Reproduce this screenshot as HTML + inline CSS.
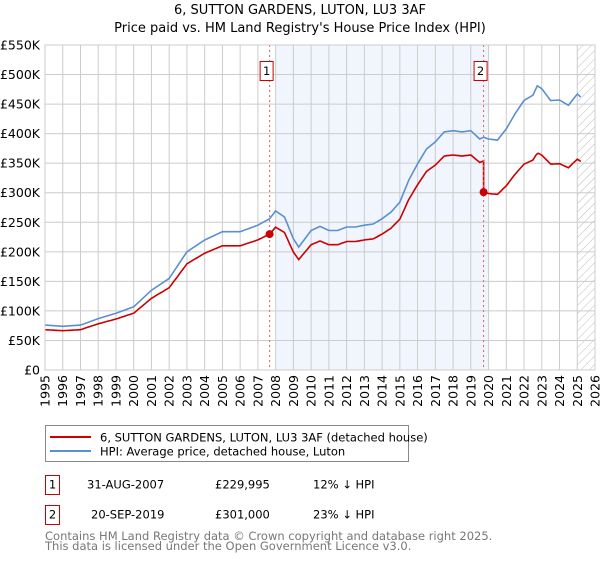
<!DOCTYPE html>
<html><head><meta charset="utf-8"><style>
body{margin:0;background:#fff;font-family:"Liberation Sans","DejaVu Sans",sans-serif;}
svg text{font-family:"DejaVu Sans","Liberation Sans",sans-serif;}
</style></head><body>
<svg id="c" width="600" height="560" viewBox="0 0 600 560" xmlns="http://www.w3.org/2000/svg">
<defs><pattern id="hatch" width="6" height="6" patternUnits="userSpaceOnUse" patternTransform="rotate(45)"><line x1="0" y1="0" x2="0" y2="6" stroke="#bbb" stroke-width="1"/></pattern></defs>
<text x="300" y="14" text-anchor="middle" font-size="13" fill="#000">6, SUTTON GARDENS, LUTON, LU3 3AF</text>
<text x="300" y="32" text-anchor="middle" font-size="13" fill="#000">Price paid vs. HM Land Registry's House Price Index (HPI)</text>
<g id="plot"></g>
<g>
<rect x="45.5" y="425.5" width="363" height="36" fill="#fff" stroke="#888"/>
<line x1="50" y1="437" x2="91" y2="437" stroke="#cc0000" stroke-width="2"/>
<text x="100" y="438" font-size="11.5" dominant-baseline="middle">6, SUTTON GARDENS, LUTON, LU3 3AF (detached house)</text>
<line x1="50" y1="451" x2="91" y2="451" stroke="#5b8fd0" stroke-width="2"/>
<text x="100" y="452" font-size="11.5" dominant-baseline="middle">HPI: Average price, detached house, Luton</text>
</g>
<g font-size="11.5">
<rect x="45.5" y="475.5" width="14" height="19" fill="#fff" stroke="#cc0000"/>
<text x="52.5" y="485" text-anchor="middle" dominant-baseline="middle">1</text>
<text x="87" y="485" dominant-baseline="middle">31-AUG-2007</text>
<text x="215" y="485" dominant-baseline="middle">£229,995</text>
<text x="313" y="485" dominant-baseline="middle">12% ↓ HPI</text>
<rect x="45.5" y="505.5" width="14" height="19" fill="#fff" stroke="#cc0000"/>
<text x="52.5" y="515" text-anchor="middle" dominant-baseline="middle">2</text>
<text x="91" y="515" dominant-baseline="middle">20-SEP-2019</text>
<text x="215" y="515" dominant-baseline="middle">£301,000</text>
<text x="313" y="515" dominant-baseline="middle">23% ↓ HPI</text>
</g>
<text x="45" y="540" font-size="11.5" fill="#777">Contains HM Land Registry data © Crown copyright and database right 2025.</text>
<text x="45" y="550" font-size="11.5" fill="#777">This data is licensed under the Open Government Licence v3.0.</text>
</svg>
<script>
const hpiYears=[1995,1996,1997,1998,1999,2000,2001,2002,2003,2004,2005,2006,2007,2007.66,2008,2008.5,2009,2009.3,2010,2010.5,2011,2011.5,2012,2012.5,2013,2013.5,2014,2014.5,2015,2015.5,2016,2016.5,2017,2017.5,2018,2018.5,2019,2019.5,2019.72,2020,2020.5,2021,2021.5,2022,2022.5,2022.75,2023,2023.5,2024,2024.5,2025,2025.2];
const hpiValues=[76,74,76,87,96,107,135,155,200,220,234,234,245,256,269,259,222,208,236,243,236,236,242,242,245,247,256,267,284,321,349,374,386,403,405,403,405,391,394,391,389,408,434,456,465,481,476,456,457,448,467,462];
const saleYears=[2007.66,2019.72];
const salePrices=[229.995,301];
const yTicks=[0,50,100,150,200,250,300,350,400,450,500,550];
const xTicks=[1995,1996,1997,1998,1999,2000,2001,2002,2003,2004,2005,2006,2007,2008,2009,2010,2011,2012,2013,2014,2015,2016,2017,2018,2019,2020,2021,2022,2023,2024,2025,2026];
const L=45,R=595,T=45,B=370;
const X=y=>L+(y-1995)/(2026-1995)*(R-L);
const Y=v=>B-v/550*(B-T);
const NS="http://www.w3.org/2000/svg";
const g=document.getElementById('plot');
function mk(t,a,p){const e=document.createElementNS(NS,t);for(const k in a)e.setAttribute(k,a[k]);(p||g).appendChild(e);return e;}
function hpiAt(t){for(let i=0;i<hpiYears.length-1;i++){if(t>=hpiYears[i]&&t<=hpiYears[i+1]){const f=(t-hpiYears[i])/(hpiYears[i+1]-hpiYears[i]);return hpiValues[i]+f*(hpiValues[i+1]-hpiValues[i]);}}return hpiValues[hpiValues.length-1];}
let r=mk('rect',{x:X(2008),y:T,width:X(2020)-X(2008),height:B-T,fill:'#eef3fc',opacity:0.8});


let h=mk('rect',{x:X(2025),y:T,width:R-X(2025),height:B-T,fill:'url(#hatch)'});


yTicks.forEach(v=>{
 const l=mk('line',{x1:L,x2:R,y1:Y(v),y2:Y(v),stroke:'#ccc','stroke-width':1});
 
 
 const t=mk('text',{x:40,y:Y(v)+4.5,'text-anchor':'end','font-size':12.5,fill:'#000'});
 t.textContent=v===0?'£0':'£'+v+'K';
 
 
});
xTicks.forEach(y=>{
 const l=mk('line',{x1:X(y),x2:X(y),y1:T,y2:B,stroke:'#ccc','stroke-width':1});
 
 
 const t=mk('text',{x:0,y:0,'text-anchor':'end','font-size':12.5,fill:'#000',transform:`translate(${X(y)+4.5},375) rotate(-90)`});
 t.textContent=y;
 
 
});
// HPI line
let d='';
hpiYears.forEach((y,i)=>{d+=(i?'L':'M')+X(y).toFixed(1)+','+Y(hpiValues[i]).toFixed(1);});
let hp=mk('path',{d:d,fill:'none',stroke:'#5b8fd0','stroke-width':1.6});


// Price paid line (HPI-indexed from sales)
let pd='';let first=true;
const steps=[];for(let t=1995;t<=2025.2001;t+=0.1)steps.push(+t.toFixed(2));
saleYears.forEach(s=>steps.push(s));steps.sort((a,b)=>a-b);
steps.forEach(t=>{
 let idx=0;for(let i=0;i<saleYears.length;i++)if(t>=saleYears[i])idx=i;
 const ratio=salePrices[idx]/hpiAt(saleYears[idx]);
 if(idx===1&&Math.abs(t-saleYears[1])<1e-6){pd+='L'+X(t).toFixed(1)+','+Y(salePrices[0]/hpiAt(saleYears[0])*hpiAt(t)).toFixed(1);}
 pd+=(first?'M':'L')+X(t).toFixed(1)+','+Y(hpiAt(t)*ratio).toFixed(1);first=false;
});
let pp=mk('path',{d:pd,fill:'none',stroke:'#cc0000','stroke-width':1.6});


saleYears.forEach((s,i)=>{
 const vl=mk('line',{x1:X(s),x2:X(s),y1:T,y2:B,stroke:'#e06060','stroke-width':1,'stroke-dasharray':'2,3'});
 
 
 const c=mk('circle',{cx:X(s),cy:Y(salePrices[i]),r:4,fill:'#cc0000'});
 
 
 const bx=mk('rect',{x:X(s)-9.5,y:61.5,width:13,height:19,fill:'#fff',stroke:'#cc0000'});
 
 
 const tx=mk('text',{x:X(s)-3,y:75,'text-anchor':'middle','font-size':11.5});
 tx.textContent=String(i+1);
 
 
});
const ax=mk('rect',{x:L,y:T,width:R-L,height:B-T,fill:'none',stroke:'#ccc'});


</script>
</body></html>
